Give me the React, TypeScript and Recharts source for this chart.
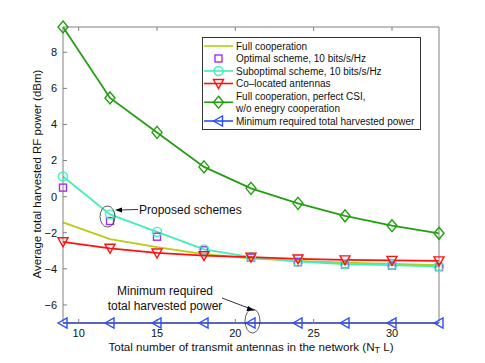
import { LineChart, Line, XAxis, YAxis, ReferenceDot } from 'recharts';

const antennas = [9, 12, 15, 18, 21, 24, 27, 30, 33];
const fullCoop = [-1.43, -2.35, -2.8, -3.18, -3.42, -3.56, -3.66, -3.72, -3.8];
const optimal = [0.5, -1.35, -2.22, -2.97, -3.38, -3.63, -3.76, -3.82, -3.9];
const suboptimal = [1.12, -0.98, -1.95, -2.92, -3.35, -3.6, -3.73, -3.79, -3.87];
const colocated = [-2.5, -2.86, -3.12, -3.27, -3.35, -3.45, -3.5, -3.53, -3.56];
const perfectCsi = [9.4, 5.47, 3.56, 1.65, 0.46, -0.37, -1.06, -1.61, -2.03];
const minRequired = [-7, -7, -7, -7, -7, -7, -7, -7, -7];

const xTicks = [10, 15, 20, 25, 30];
const yTicks = [-6, -4, -2, 0, 2, 4, 6, 8];

const FONT = '"Liberation Sans", Arial, sans-serif';
const AXIS = '#808080';

type Shape = 'none' | 'square' | 'circle' | 'down' | 'diamond' | 'left';

const series: Array<{ key: string; name: string[]; color: string; shape: Shape; line: boolean; values: number[] }> = [
  { key: 'fullCoop', name: ['Full cooperation'], color: '#b8cc10', shape: 'none', line: true, values: fullCoop },
  { key: 'optimal', name: ['Optimal scheme, 10 bits/s/Hz'], color: '#a030f0', shape: 'square', line: false, values: optimal },
  { key: 'suboptimal', name: ['Suboptimal scheme, 10 bits/s/Hz'], color: '#40f0b4', shape: 'circle', line: true, values: suboptimal },
  { key: 'colocated', name: ['Co\u2013located antennas'], color: '#ff1010', shape: 'down', line: true, values: colocated },
  { key: 'perfectCsi', name: ['Full cooperation, perfect CSI,', 'w/o enegry cooperation'], color: '#22a010', shape: 'diamond', line: true, values: perfectCsi },
  { key: 'minRequired', name: ['Minimum required total harvested power'], color: '#2e4ef2', shape: 'left', line: true, values: minRequired },
];

const data = antennas.map((n, i) => {
  const row: Record<string, number> = { n };
  series.forEach(s => { row[s.key] = s.values[i]; });
  return row;
});

function Marker({ shape, cx, cy, color }: { shape: Shape; cx: number; cy: number; color: string }) {
  const common = { fill: 'none', stroke: color, strokeWidth: 1.4 };
  switch (shape) {
    case 'square':
      return <rect x={cx - 3.5} y={cy - 3.5} width={7} height={7} {...common} />;
    case 'circle':
      return <circle cx={cx} cy={cy} r={4.5} {...common} />;
    case 'down':
      return <polygon points={`${cx - 5},${cy - 4} ${cx + 5},${cy - 4} ${cx},${cy + 5}`} {...common} />;
    case 'diamond':
      return <polygon points={`${cx},${cy - 6} ${cx + 5},${cy} ${cx},${cy + 6} ${cx - 5},${cy}`} {...common} />;
    case 'left':
      return <polygon points={`${cx - 5},${cy} ${cx + 4},${cy - 5} ${cx + 4},${cy + 5}`} {...common} />;
    default:
      return null;
  }
}

function ProposedMark({ cx, cy }: any) {
  return (
    <g>
      <ellipse cx={cx - 2.5} cy={cy} rx={7.5} ry={10.5} fill="none" stroke="#333" strokeWidth={0.8} />
      <line x1={cx + 28} y1={cy - 7} x2={cx + 10} y2={cy - 6.5} stroke="#000" strokeWidth={0.8} />
      <polygon points={`${cx + 5},${cy - 6.5} ${cx + 12},${cy - 9} ${cx + 12},${cy - 4}`} fill="#000" />
      <text x={cx + 29} y={cy - 7} dominantBaseline="central" fontSize={12} fontFamily={FONT} fill="#111">
        Proposed schemes
      </text>
    </g>
  );
}

function MinMark({ cx, cy }: any) {
  return (
    <g>
      <ellipse cx={cx + 1.5} cy={cy - 2} rx={7.5} ry={12} fill="none" stroke="#333" strokeWidth={0.8} />
      <line x1={cx - 29} y1={cy - 25} x2={cx} y2={cy - 14} stroke="#000" strokeWidth={0.8} />
      <polygon points={`${cx + 4},${cy - 12.5} ${cx - 3},${cy - 17} ${cx - 4.5},${cy - 12}`} fill="#000" />
      <text x={cx - 86} y={cy - 32} textAnchor="middle" dominantBaseline="central" fontSize={12} fontFamily={FONT} fill="#111">
        Minimum required
      </text>
      <text x={cx - 86} y={cy - 17} textAnchor="middle" dominantBaseline="central" fontSize={12} fontFamily={FONT} fill="#111">
        total harvested power
      </text>
    </g>
  );
}

function LegendBox() {
  let y = 9;
  const rows = series.map(s => {
    const h = s.name.length * 12.5;
    const cy = y + (s.name.length - 1) * 6.25;
    const row = (
      <g key={s.key}>
        {s.line && <line x1={2} x2={31} y1={cy} y2={cy} stroke={s.color} strokeWidth={1.6} />}
        <Marker shape={s.shape} cx={16.5} cy={cy} color={s.color} />
        {s.name.map((t, i) => (
          <text key={i} x={34} y={y + i * 12.5} dominantBaseline="central" fontSize={10} fontFamily={FONT} fill="#111">
            {t}
          </text>
        ))}
      </g>
    );
    y += h;
    return row;
  });
  return (
    <svg width={219} height={93} style={{ position: 'absolute', left: 202, top: 37 }}>
      <rect x={0.5} y={0.5} width={218} height={92} fill="#fff" stroke="#333" strokeWidth={1} />
      {rows}
    </svg>
  );
}

export default function App() {
  return (
    <div style={{ position: 'absolute', left: 0, top: 0, width: 485, height: 363, background: '#fff' }}>
      <LineChart width={485} height={363} data={data} margin={{ top: 22, right: 40, left: 0, bottom: 0 }}>
        <XAxis
          dataKey="n"
          type="number"
          domain={[9, 33]}
          ticks={xTicks}
          height={40}
          stroke={AXIS}
          tickSize={-4}
          tickMargin={10}
          tick={{ fill: '#111', fontSize: 11, fontFamily: FONT }}
        />
        <XAxis
          xAxisId="top"
          dataKey="n"
          type="number"
          orientation="top"
          domain={[9, 33]}
          ticks={xTicks}
          height={5}
          stroke={AXIS}
          tickSize={-4}
          tickFormatter={() => ''}
        />
        <YAxis
          type="number"
          domain={[-7, 9.4]}
          ticks={yTicks}
          width={63}
          stroke={AXIS}
          tickSize={-4}
          tickMargin={10}
          tickFormatter={(v: number) => (v < 0 ? '\u2212' + Math.abs(v) : String(v))}
          tick={{ fill: '#111', fontSize: 11, fontFamily: FONT }}
        />
        <YAxis
          yAxisId="right"
          orientation="right"
          type="number"
          domain={[-7, 9.4]}
          ticks={yTicks}
          width={6}
          stroke={AXIS}
          tickSize={-4}
          tickFormatter={() => ''}
        />
        {series.map(s => (
          <Line
            key={s.key}
            dataKey={s.key}
            stroke={s.line ? s.color : 'none'}
            strokeWidth={1.8}
            isAnimationActive={false}
            dot={s.shape === 'none' ? false : (p: any) => (
              <Marker key={p.index} shape={s.shape} cx={p.cx} cy={p.cy} color={s.color} />
            )}
            activeDot={false}
          />
        ))}
        <ReferenceDot x={12} y={-1.1} shape={ProposedMark} />
        <ReferenceDot x={21} y={-7} shape={MinMark} />
        <text x={37} y={174} transform="rotate(-90 37 174)" textAnchor="middle" dominantBaseline="central" fontSize={11.5} fontFamily={FONT} fill="#111">
          Average total harvested RF power (dBm)
        </text>
        <text x={251} y={346} textAnchor="middle" dominantBaseline="central" fontSize={11.6} fontFamily={FONT} fill="#111">
          Total number of transmit antennas in the network (N
          <tspan fontSize={9} dy={4}>T</tspan>
          <tspan dy={-4}> L)</tspan>
        </text>
      </LineChart>
      <LegendBox />
    </div>
  );
}
